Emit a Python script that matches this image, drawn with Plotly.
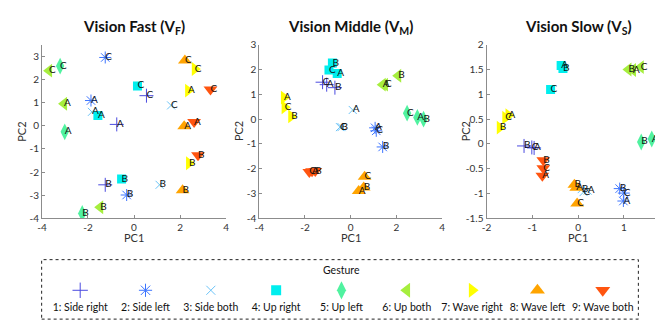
import plotly.graph_objects as go

# ---------------- data ----------------
gestures = ["1: Side right", "2: Side left", "3: Side both", "4: Up right", "5: Up left",
            "6: Up both", "7: Wave right", "8: Wave left", "9: Wave both"]
trials = ["A", "B", "C"]
colors = ["#4a4ae0", "#3c74ff", "#6cc4f8", "#00eeee", "#50f2a0",
          "#a6ee3e", "#ffff00", "#ffa400", "#ff5510"]
symbols = ["cross-thin-open", "asterisk-open", "x-thin-open", "square", "diamond-tall",
           "triangle-left", "triangle-right", "triangle-up", "triangle-down"]

# Vision Fast: per gesture, values for trials A, B, C
fast_pc1 = [[-0.75, -1.25, 0.54], [-1.87, -0.32, -1.25], [-1.83, 1.11, 1.61],
            [-1.57, -0.54, 0.15], [-3.01, -2.25, -3.21], [-3.04, -1.47, -3.69],
            [2.35, 2.39, 2.64], [2.18, 2.11, 2.21], [2.61, 2.78, 3.32]]
fast_pc2 = [[0.06, -2.55, 1.30], [1.09, -2.99, 2.95], [0.60, -2.55, 0.88],
            [0.44, -2.30, 1.72], [-0.26, -3.79, 2.58], [0.95, -3.52, 2.38],
            [1.52, -1.62, 2.45], [-0.02, -2.79, 2.82], [0.16, -1.27, 1.57]]

# Vision Middle
mid_pc1 = [[-1.05, -0.69, -1.23], [1.07, 1.40, 1.12], [0.09, -0.40, -0.47],
           [-0.59, -0.80, -0.95], [2.92, 3.19, 2.47], [1.40, 2.08, 1.50],
           [-2.92, -2.60, -2.89], [0.35, 0.57, 0.61], [-1.69, -1.55, -1.81]]
mid_pc2 = [[1.39, 1.27, 1.49], [-0.35, -1.12, -0.47], [0.37, -0.32, -0.32],
           [1.84, 2.26, 1.98], [0.07, 0.00, 0.24], [1.39, 1.75, 1.39],
           [0.87, 0.11, 0.48], [-2.90, -2.75, -2.32], [-2.10, -2.09, -2.13]]

# Vision Slow
slow_pc1 = [[-0.96, -1.18, -1.01], [0.99, 0.91, 1.00], [0.21, 0.08, 0.12],
            [-0.37, -0.33, -0.60], [1.61, 1.38, 1.79], [1.20, 1.10, 1.37],
            [-1.52, -1.71, -1.59], [-0.04, -0.08, -0.02], [-0.78, -0.76, -0.76]]
slow_pc2 = [[-0.08, -0.04, -0.07], [-1.15, -0.90, -0.99], [-0.94, -0.91, -0.97],
            [1.58, 1.52, 1.10], [0.10, 0.04, 0.10], [1.49, 1.50, 1.55],
            [0.58, 0.33, 0.53], [-0.88, -0.82, -1.20], [-0.64, -0.33, -0.49]]

titles = ["Vision Fast (V<sub>F</sub>)", "Vision Middle (V<sub>M</sub>)", "Vision Slow (V<sub>S</sub>)"]
x_ranges = [[-4, 4], [-4, 4], [-2, 1.965]]
y_ranges = [[-4, 3.5], [-4, 3], [-1.5, 2]]
x_ticks = [[-4, -2, 0, 2, 4], [-4, -2, 0, 2, 4], [-2, -1, 0, 1, 2]]
y_ticks = [[-4, -3, -2, -1, 0, 1, 2, 3], [-4, -3, -2, -1, 0, 1, 2, 3],
           [-1.5, -1, -0.5, 0, 0.5, 1, 1.5, 2]]

views = [(fast_pc1, fast_pc2), (mid_pc1, mid_pc2), (slow_pc1, slow_pc2)]

# ---------------- figure ----------------
W, H = 663, 320
FONT = "Lato"
fig = go.Figure()

marker_sizes = [10, 10, 8, 9, 12, 12, 12, 12, 12]

for v, (px, py) in enumerate(views):
    xa = "x" if v == 0 else f"x{v+1}"
    ya = "y" if v == 0 else f"y{v+1}"
    for g in range(9):
        sym = symbols[g]
        open_sym = sym.endswith("open")
        fig.add_trace(go.Scatter(
            x=px[g], y=py[g], mode="markers", xaxis=xa, yaxis=ya, showlegend=False,
            marker=dict(symbol=sym, size=marker_sizes[g], color=colors[g],
                        line=dict(width=1, color=colors[g]) if open_sym else dict(width=0)),
            hoverinfo="skip"))
    tx, ty, tt = [], [], []
    for g in range(9):
        for k in range(3):
            tx.append(px[g][k]); ty.append(py[g][k]); tt.append(trials[k])
    fig.add_trace(go.Scatter(
        x=tx, y=ty, text=tt, mode="text", textposition="middle right", xaxis=xa, yaxis=ya,
        showlegend=False, textfont=dict(family=FONT, size=10, color="#111111"), hoverinfo="skip"))

# legend traces on hidden axis x4/y4
leg_x = list(range(len(gestures)))
for g in range(9):
    sym = symbols[g]
    open_sym = sym.endswith("open")
    fig.add_trace(go.Scatter(
        x=[leg_x[g]], y=[1], mode="markers", xaxis="x4", yaxis="y4", showlegend=False,
        marker=dict(symbol=sym, size=marker_sizes[g] + 1, color=colors[g],
                    line=dict(width=1, color=colors[g]) if open_sym else dict(width=0)),
        hoverinfo="skip"))
fig.add_trace(go.Scatter(
    x=leg_x, y=[0] * len(gestures), text=gestures, mode="text", textposition="middle center",
    xaxis="x4", yaxis="y4", showlegend=False,
    textfont=dict(family=FONT, size=10.5, color="#111111"), hoverinfo="skip"))

x_domains = [[29.3 / W, 215.7 / W], [249.3 / W, 434.3 / W], [479.3 / W, 1.0]]
y_dom = [(H - 212) / H, (H - 31) / H]

axis_common = dict(showgrid=False, zeroline=False, showline=True, linecolor="#8c8c8c",
                   linewidth=1, ticks="inside", ticklen=3, tickcolor="#8c8c8c",
                   tickfont=dict(family=FONT, size=10, color="#333333"), mirror=False)

layout = dict(width=W, height=H, margin=dict(l=0, r=0, t=0, b=0),
              plot_bgcolor="white", paper_bgcolor="white", showlegend=False)
for v in range(3):
    xk = "xaxis" if v == 0 else f"xaxis{v+1}"
    yk = "yaxis" if v == 0 else f"yaxis{v+1}"
    ya = "y" if v == 0 else f"y{v+1}"
    xa = "x" if v == 0 else f"x{v+1}"
    layout[xk] = dict(domain=x_domains[v], range=x_ranges[v], anchor=ya,
                      tickvals=x_ticks[v], ticktext=[f"{t:g}" for t in x_ticks[v]], **axis_common)
    layout[yk] = dict(domain=y_dom, range=y_ranges[v], anchor=xa,
                      tickvals=y_ticks[v], ticktext=[f"{t:g}" for t in y_ticks[v]], **axis_common)

layout["xaxis4"] = dict(domain=[29 / W, 633 / W], range=[-0.59, 8.545], anchor="y4",
                        visible=False, fixedrange=True)
layout["yaxis4"] = dict(domain=[(H - 317) / H, (H - 255) / H], range=[-0.58, 2.68],
                        anchor="x4", visible=False, fixedrange=True)

annotations = []
for v in range(3):
    d = x_domains[v]
    cx = (d[0] + d[1]) / 2 if v < 2 else (d[0] + 664.6 / W) / 2
    annotations.append(dict(text=f"<b>{titles[v]}</b>", x=cx, y=(H - 13) / H, xref="paper", yref="paper",
                            xanchor="center", yanchor="middle",
                            showarrow=False, font=dict(family=FONT, size=15, color="#111111")))
    annotations.append(dict(text="PC1", x=cx, y=(H - 232) / H, xref="paper", yref="paper",
                            xanchor="center", yanchor="middle",
                            showarrow=False, font=dict(family=FONT, size=11, color="#333333")))
    annotations.append(dict(text="PC2", x=(d[0] * W - 21) / W, y=(y_dom[0] + y_dom[1]) / 2,
                            xref="paper", yref="paper", textangle=-90, showarrow=False,
                            xanchor="center", yanchor="middle",
                            font=dict(family=FONT, size=11, color="#333333")))
annotations.append(dict(text="Gesture", x=4, y=2.1, xref="x4", yref="y4", showarrow=False,
                        xanchor="center", yanchor="middle",
                        font=dict(family=FONT, size=10.5, color="#111111")))
layout["annotations"] = annotations
layout["shapes"] = [dict(type="rect", xref="paper", yref="paper", x0=29 / W, x1=633 / W,
                         y0=(H - 317) / H, y1=(H - 255) / H,
                         line=dict(color="#222222", width=1, dash="dot"), fillcolor="rgba(0,0,0,0)")]

fig.update_layout(**layout)
fig.write_html("out.html")
